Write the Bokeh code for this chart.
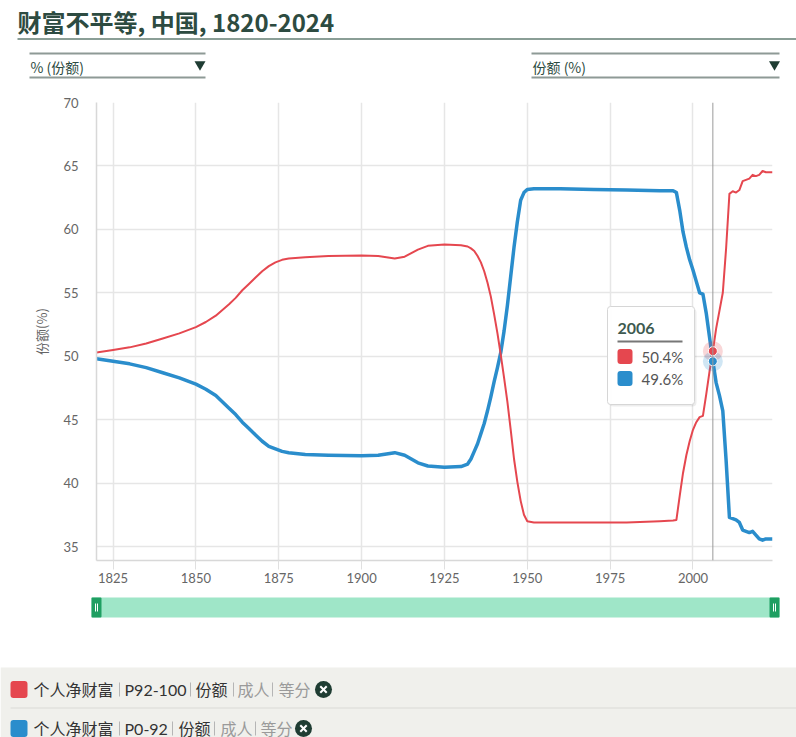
from bokeh.plotting import figure
from bokeh.models import Range1d, FixedTicker, Span, Label, ColumnDataSource
from bokeh.layouts import column
from bokeh.embed import file_html
from bokeh.resources import INLINE

# ---------------- data ----------------
years = [1820, 1825, 1830, 1835, 1840, 1845, 1850,
         1853, 1856, 1860, 1862, 1864, 1866, 1868, 1870, 1872, 1874, 1876, 1878, 1883, 1890,
         1900, 1905, 1910, 1913, 1917, 1920, 1925, 1930, 1932, 1933, 1934, 1935,
         1936, 1937, 1938, 1939, 1940, 1941, 1942, 1943, 1944, 1945, 1946, 1947, 1948, 1949, 1950, 1952,
         1960, 1970, 1980, 1990, 1994, 1995, 1996, 1997, 1998, 1999,
         2000, 2001, 2002, 2003, 2004, 2005, 2006, 2007, 2008, 2009, 2010, 2011, 2012,
         2013, 2014, 2015, 2016, 2017, 2018, 2019, 2020, 2021, 2022, 2023, 2024]

share_p92_100 = [50.3, 50.5, 50.7, 51.0, 51.4, 51.8, 52.3,
                 52.7, 53.2, 54.1, 54.6, 55.2, 55.7, 56.2, 56.7, 57.1, 57.4, 57.6, 57.7, 57.8, 57.9,
                 57.95, 57.9, 57.7, 57.85, 58.4, 58.7, 58.8, 58.75, 58.65, 58.5, 58.3, 57.9,
                 57.4, 56.7, 55.8, 54.7, 53.3, 51.8, 50.1, 48.3, 46.4, 44.2, 41.9, 40.1, 38.6, 37.5, 37.0, 36.9,
                 36.9, 36.9, 36.9, 37.0, 37.05, 37.1, 39.0, 40.8, 42.2, 43.3,
                 44.2, 44.8, 45.2, 45.3, 47.0, 48.8, 50.4, 52.2, 53.6, 55.0, 58.5, 62.8, 63.0,
                 62.9, 63.1, 63.8, 63.9, 64.0, 64.3, 64.2, 64.3, 64.6, 64.5, 64.5, 64.5]

share_p0_92 = [49.8, 49.6, 49.4, 49.1, 48.7, 48.3, 47.8,
               47.4, 46.9, 45.9, 45.4, 44.8, 44.3, 43.8, 43.3, 42.9, 42.7, 42.5, 42.4, 42.25, 42.2,
               42.15, 42.2, 42.4, 42.2, 41.6, 41.35, 41.25, 41.3, 41.5, 41.9, 42.5, 43.1,
               43.9, 44.7, 45.7, 46.8, 48.0, 49.1, 50.3, 52.0, 54.0, 56.3, 58.6, 60.6, 62.3, 62.9, 63.15, 63.2,
               63.2, 63.15, 63.1, 63.05, 63.05, 62.9, 61.5, 59.8, 58.6, 57.6,
               56.8, 55.9, 55.0, 54.9, 53.4, 51.5, 49.6, 47.9, 46.9, 45.7, 41.8, 37.3, 37.2,
               37.1, 36.9, 36.3, 36.2, 36.1, 36.2, 35.9, 35.6, 35.5, 35.6, 35.6, 35.6]

x_ticks = [1825, 1850, 1875, 1900, 1925, 1950, 1975, 2000]
y_ticks = [35, 40, 45, 50, 55, 60, 65, 70]

title_text = "财富不平等, 中国, 1820-2024"
menu_left_text = "% (份额)"
menu_right_text = "份额 (%)"
y_axis_title = "份额(%)"

tooltip_year = 2006
tooltip_values = [50.4, 49.6]
tooltip_labels = ["50.4%", "49.6%"]

legend_row1 = ["个人净财富", "P92-100", "份额", "成人", "等分"]
legend_row2 = ["个人净财富", "P0-92", "份额", "成人", "等分"]

# ---------------- style ----------------
RED = "#e5474f"
BLUE = "#2a8dcc"
DARK = "#2d4b41"
FONT = "Lato, 'Noto Sans CJK SC', sans-serif"
CJK = "'Noto Sans CJK SC', Lato, sans-serif"
W = 796


def blank(y_top, y_bot):
    f = figure(width=W, height=y_bot - y_top, x_range=Range1d(0, W), y_range=Range1d(y_bot, y_top),
               output_backend="svg", toolbar_location=None, min_border=0,
               x_axis_location=None, y_axis_location=None, frame_align=False)
    f.grid.visible = False
    f.outline_line_color = None
    f.background_fill_color = "white"
    return f


# ---------------- header ----------------
hdr = blank(0, 86)
hdr.add_layout(Label(x=17, y=21, text=title_text, text_baseline="middle",
                     text_font=CJK, text_font_size="24px", text_font_style="bold",
                     text_color=DARK))
hdr.segment(x0=[17], y0=[38.5], x1=[W], y1=[38.5], line_color="#8a9e96", line_width=2)
hdr.segment(x0=[29, 29, 531, 531], y0=[53, 77, 53, 77], x1=[205, 205, 779, 779],
            y1=[53, 77, 53, 77], line_color="#8e9a96", line_width=2)
hdr.add_layout(Label(x=30, y=66, text=menu_left_text, text_baseline="middle",
                     text_font=CJK, text_font_size="14px", text_color=DARK))
hdr.add_layout(Label(x=532, y=66, text=menu_right_text, text_baseline="middle",
                     text_font=CJK, text_font_size="14px", text_color=DARK))
hdr.scatter(x=[199.5, 774], y=[64, 64], marker="inverted_triangle", size=11,
            fill_color="#1f3d33", line_color=None)

# ---------------- main chart ----------------
src = ColumnDataSource(dict(year=years, top=share_p92_100, bottom=share_p0_92))

p = figure(width=W, height=504, x_range=Range1d(1820, 2024), y_range=Range1d(33.9, 70),
           output_backend="svg", toolbar_location=None, frame_align=False,
           min_border_left=96, min_border_right=24, min_border_top=16, min_border_bottom=30)
p.outline_line_color = None
p.background_fill_color = "white"

p.xaxis.ticker = FixedTicker(ticks=x_ticks)
p.yaxis.ticker = FixedTicker(ticks=y_ticks)
p.xgrid.ticker = FixedTicker(ticks=x_ticks)
p.ygrid.ticker = FixedTicker(ticks=y_ticks)
p.grid.grid_line_color = "#e6e6e6"
p.grid.grid_line_width = 1.5

p.xaxis.axis_line_color = "#d8d8d8"
p.xaxis.axis_line_width = 1.5
p.xaxis.major_tick_out = 9
p.xaxis.major_tick_in = 0
p.xaxis.major_tick_line_color = "#e0e0e0"
p.xaxis.minor_tick_line_color = None
p.xaxis.major_label_standoff = 3
p.xaxis.major_label_text_font = FONT
p.xaxis.major_label_text_font_size = "13px"
p.xaxis.major_label_text_color = "#666666"

p.yaxis.axis_line_color = "#d8d8d8"
p.yaxis.axis_line_width = 1.5
p.yaxis.major_tick_out = 0
p.yaxis.major_tick_in = 0
p.yaxis.major_tick_line_color = None
p.yaxis.minor_tick_line_color = None
p.yaxis.major_label_standoff = 18
p.yaxis.major_label_text_font = FONT
p.yaxis.major_label_text_font_size = "13px"
p.yaxis.major_label_text_color = "#666666"
p.yaxis.major_label_text_baseline = "bottom"
p.yaxis.axis_label = y_axis_title
p.yaxis.axis_label_text_font = CJK
p.yaxis.axis_label_text_font_size = "13px"
p.yaxis.axis_label_text_font_style = "normal"
p.yaxis.axis_label_text_color = "#666666"
p.yaxis.axis_label_standoff = 9

p.line("year", "bottom", source=src, line_color=BLUE, line_width=3.5, line_join="round")
p.line("year", "top", source=src, line_color=RED, line_width=2, line_join="round")

# crosshair + hover markers
p.add_layout(Span(location=tooltip_year, dimension="height", line_color="#9a9a9a", line_width=1))
for v, c in zip(tooltip_values, [RED, BLUE]):
    p.scatter(x=[tooltip_year], y=[v], size=20, fill_color=c, fill_alpha=0.22, line_color=None)
for v, c in zip(tooltip_values, [RED, BLUE]):
    p.scatter(x=[tooltip_year], y=[v], size=9, fill_color=c, line_color="white", line_width=1)


# tooltip box (page pixels converted to data coordinates)
def px(xp):
    return 1820 + (xp - 96) * (2024 - 1820) / 676.0


def py(yp):
    return 70 - (yp - 102) * (70 - 33.9) / 458.0


p.quad(left=[px(609)], right=[px(696)], top=[py(308)], bottom=[py(406)],
       fill_color="#000000", fill_alpha=0.07, line_color=None, border_radius=4)
p.quad(left=[px(607)], right=[px(694)], top=[py(306)], bottom=[py(404)],
       fill_color="white", fill_alpha=0.96, line_color="#d6d6d6", line_width=1,
       border_radius=3)
p.segment(x0=[px(617)], y0=[py(341)], x1=[px(682)], y1=[py(341)], line_color="#777777",
          line_width=2)
for i, c in enumerate([RED, BLUE]):
    yc = 356 + i * 22
    p.quad(left=[px(617)], right=[px(632)], top=[py(yc - 7.5)], bottom=[py(yc + 7.5)],
           fill_color=c, line_color=None, border_radius=3)
p.add_layout(Label(x=px(617), y=py(328), text=str(tooltip_year), text_baseline="middle",
                   text_font=FONT, text_font_size="16px", text_font_style="bold",
                   text_color="#3e5a50"))
for i, lab in enumerate(tooltip_labels):
    yc = 356 + i * 22
    p.add_layout(Label(x=px(641), y=py(yc), text=lab, text_baseline="middle",
                       text_font=FONT, text_font_size="15px", text_color="#555555"))

# ---------------- navigator + legend ----------------
bot = blank(590, 737)
bot.quad(left=[91], right=[779], top=[597], bottom=[617], fill_color="#9fe6c8", line_color=None)
bot.quad(left=[91, 769], right=[101, 779], top=[597, 597], bottom=[617, 617],
         fill_color="#1f9f62", line_color=None, border_radius=1)
bot.segment(x0=[95, 97, 773, 775], y0=[603] * 4, x1=[95, 97, 773, 775], y1=[611] * 4,
            line_color="white", line_width=1)

bot.quad(left=[0], right=[W], top=[667], bottom=[737], fill_color="#f0f0ec", line_color=None)
bot.segment(x0=[10], y0=[707.5], x1=[W], y1=[707.5], line_color="#e2e2de", line_width=1.5)


def legend_row(f, yc, parts, color, xs_text, xs_bar, x_icon):
    f.quad(left=[10], right=[27], top=[yc - 8.5], bottom=[yc + 8.5], fill_color=color,
           line_color=None, border_radius=3)
    cols = ["#333333", "#333333", "#333333", "#9a9a9a", "#9a9a9a"]
    for t, x, c in zip(parts, xs_text, cols):
        f.add_layout(Label(x=x, y=yc, text=t, text_baseline="middle", text_font=FONT,
                           text_font_size="16px", text_color=c))
    f.segment(x0=xs_bar, y0=[yc - 7] * len(xs_bar), x1=xs_bar, y1=[yc + 7] * len(xs_bar),
              line_color="#b5b5b5", line_width=1)
    f.scatter(x=[x_icon], y=[yc], size=17, fill_color="#1f3d33", line_color=None)
    f.segment(x0=[x_icon - 3.2, x_icon - 3.2], y0=[yc - 3.2, yc + 3.2],
              x1=[x_icon + 3.2, x_icon + 3.2], y1=[yc + 3.2, yc - 3.2],
              line_color="white", line_width=2)


legend_row(bot, 689, legend_row1, RED, [33, 124, 195, 237, 278], [119, 190, 233, 272], 323)
legend_row(bot, 728, legend_row2, BLUE, [33, 124, 178, 220, 260], [119, 172, 214, 255], 303)

layout = column(hdr, p, bot, spacing=0)
open("out.html", "w").write(file_html(layout, INLINE))
